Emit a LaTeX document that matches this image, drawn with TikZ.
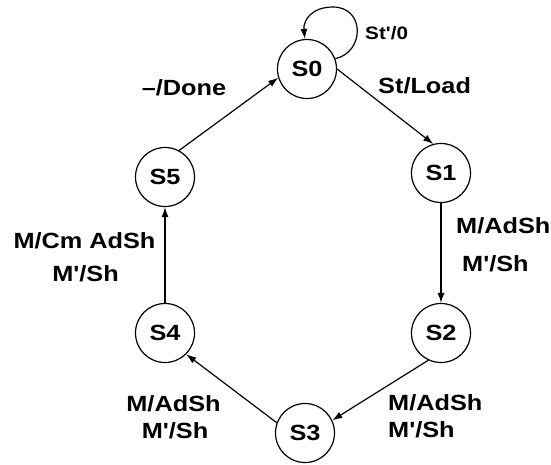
\documentclass[tikz,border=0pt]{standalone}
\usepackage{fontspec}
\newfontfamily\lblfont[FakeStretch=1.15]{Liberation Sans}
\usetikzlibrary{arrows.meta}
\begin{document}
\begin{tikzpicture}[x=1pt,y=-1pt,
  state/.style={draw, circle, line width=1.2pt, minimum size=59pt, inner sep=0pt,
    font=\lblfont\bfseries\fontsize{22}{24}\selectfont},
  trans/.style={line width=1.2pt, -{Latex[length=10pt,width=7pt]}},
  lbl/.style={inner sep=0pt, anchor=base, font=\lblfont\bfseries\fontsize{22}{24}\selectfont},
  lblw/.style={lbl, anchor=base west},
  small/.style={lblw, font=\lblfont\bfseries\fontsize{18}{20}\selectfont}]
\useasboundingbox (0,0) rectangle (551,464);

% states
\node[state] (S0) at (307,69) {S0};
\node[state] (S1) at (441,173) {S1};
\node[state] (S2) at (441,333) {S2};
\node[state] (S3) at (305,433) {S3};
\node[state] (S4) at (165,333) {S4};
\node[state] (S5) at (165,177) {S5};

% transitions
\draw[trans] (S0.east) -- (S1.105);
\draw[trans] (S1.south) -- (S2.north);
\draw[trans] (S2.245) -- (S3.25);
\draw[trans] (S3.160) -- (S4.-45);
\draw[trans] (S4.north) -- (S5.south);
\draw[trans] (S5.62) -- (S0.197);
\draw[trans] (S0.20) .. controls (365,52) and (365,7) .. (333,7)
  .. controls (312,7) and (303,20) .. (S0.94);

% transition labels
\node[small] (l00) at (365,39.5) {St'/0};
\node[lblw] (l01) at (378,93) {St/Load};
\node[lbl] (l50) at (184,95) {\textendash/Done};
\node[lblw] (l12a) at (456,233) {M/AdSh};
\node[lblw] (l12b) at (462,271) {M'/Sh};
\node[lbl] (l45a) at (84.5,248) {M/Cm AdSh};
\node[lbl] (l45b) at (85.5,281) {M'/Sh};
\node[lbl] (l34a) at (173.5,411) {M/AdSh};
\node[lbl] (l34b) at (175,438) {M'/Sh};
\node[lblw] (l23a) at (388,410) {M/AdSh};
\node[lblw] (l23b) at (388,437) {M'/Sh};
\end{tikzpicture}
\end{document}
